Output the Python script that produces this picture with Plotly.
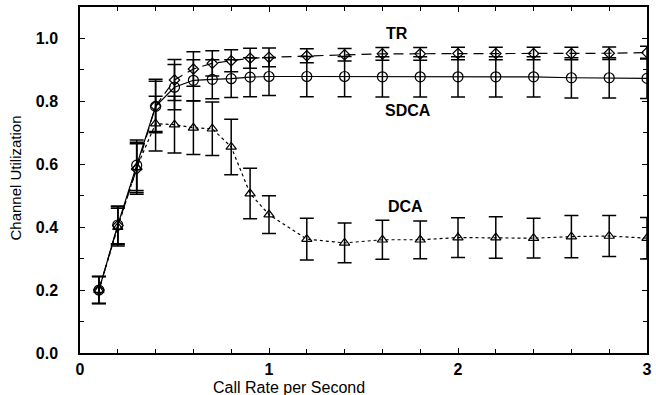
import plotly.graph_objects as go

x = [0.1, 0.2, 0.3, 0.4, 0.5, 0.6, 0.7, 0.8, 0.9, 1.0, 1.2, 1.4, 1.6, 1.8, 2.0, 2.2, 2.4, 2.6, 2.8, 3.0]

tr = [0.20, 0.405, 0.585, 0.785, 0.868, 0.903, 0.921, 0.929, 0.937, 0.940, 0.945, 0.948, 0.951, 0.951, 0.952, 0.952, 0.952, 0.952, 0.953, 0.955]
tr_err = [0.043, 0.06, 0.08, 0.085, 0.065, 0.055, 0.04, 0.035, 0.032, 0.03, 0.022, 0.02, 0.02, 0.02, 0.02, 0.02, 0.02, 0.02, 0.02, 0.02]

sdca = [0.20, 0.407, 0.597, 0.784, 0.845, 0.867, 0.870, 0.872, 0.877, 0.879, 0.879, 0.879, 0.878, 0.878, 0.878, 0.878, 0.878, 0.875, 0.875, 0.873]
sdca_err = [0.043, 0.06, 0.08, 0.08, 0.072, 0.065, 0.062, 0.06, 0.062, 0.06, 0.064, 0.064, 0.064, 0.064, 0.064, 0.064, 0.064, 0.064, 0.064, 0.064]

dca = [0.20, 0.40, 0.59, 0.729, 0.726, 0.716, 0.713, 0.655, 0.507, 0.44, 0.362, 0.35, 0.36, 0.36, 0.367, 0.367, 0.365, 0.37, 0.372, 0.365]
dca_err = [0.043, 0.06, 0.08, 0.087, 0.09, 0.085, 0.085, 0.088, 0.08, 0.06, 0.066, 0.063, 0.062, 0.06, 0.063, 0.066, 0.063, 0.067, 0.065, 0.066]

labels = ["TR", "SDCA", "DCA"]
label_x = [1.678, 1.736, 1.72]
label_y = [1.017, 0.77, 0.467]

fig = go.Figure()

def add(yv, ev, dash, symbol, msize):
    fig.add_trace(go.Scatter(
        x=x, y=yv, mode="lines+markers",
        line=dict(color="black", width=1.2, dash=dash),
        marker=dict(symbol=symbol, size=msize, color="black", line=dict(color="black", width=1.2)),
        error_y=dict(type="data", array=ev, visible=True, color="black", thickness=1.5, width=7),
        showlegend=False,
    ))

add(dca, dca_err, "dot", "triangle-up-open", 9)
add(sdca, sdca_err, "solid", "circle-open", 10)
add(tr, tr_err, "10px,6px", "diamond-open", 8)

for t, lx, ly in zip(labels, label_x, label_y):
    fig.add_annotation(x=lx, y=ly, text=t, showarrow=False,
                       font=dict(family="Liberation Sans, Arial", size=16, color="black", weight="bold"))

fig.add_annotation(xref="paper", yref="paper", x=-0.1136, y=0.506, text="Channel Utilization",
                   textangle=-90, showarrow=False, xanchor="center", yanchor="middle",
                   font=dict(family="Liberation Sans, Arial", size=15, color="black"))
fig.add_annotation(xref="paper", yref="paper", x=0.369, y=-0.101, text="Call Rate per Second",
                   showarrow=False, xanchor="center", yanchor="middle",
                   font=dict(family="Liberation Sans, Arial", size=16, color="black"))

fig.update_xaxes(range=[0, 3], dtick=1, tick0=0, ticks="inside", ticklen=5, tickwidth=1,
                 tickcolor="black", showline=True, linecolor="black", linewidth=1.5, mirror="ticks",
                 showgrid=False, zeroline=False, ticklabelstandoff=1,
                 minor=dict(dtick=0.2, ticks="inside", ticklen=4, tickcolor="black", showgrid=False),
                 tickfont=dict(family="Liberation Sans, Arial", size=16, color="black", weight="bold"))
fig.update_yaxes(range=[0, 1.1], dtick=0.2, tick0=0, tickformat=".1f", ticks="inside", ticklen=5,
                 tickwidth=1, tickcolor="black", showline=True, linecolor="black", linewidth=1.5,
                 mirror="ticks", showgrid=False, zeroline=False, ticklabelstandoff=17,
                 minor=dict(dtick=0.1, ticks="inside", ticklen=4, tickcolor="black", showgrid=False),
                 tickfont=dict(family="Liberation Sans, Arial", size=16, color="black", weight="bold"))

fig.update_layout(width=656, height=395, margin=dict(l=80, r=4, t=7, b=42),
                  plot_bgcolor="white", paper_bgcolor="white")

fig.write_html("out.html")
